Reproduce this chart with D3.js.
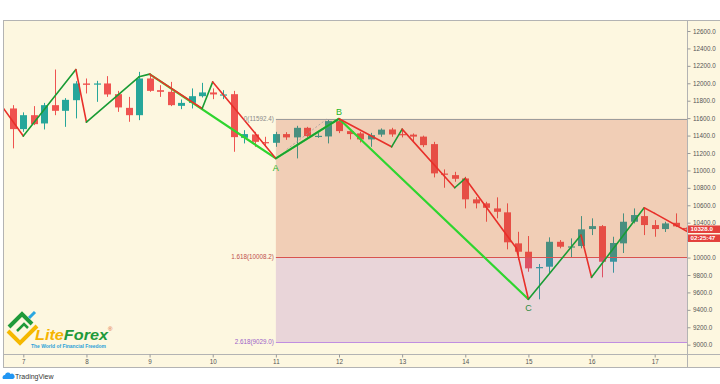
<!DOCTYPE html>
<html><head><meta charset="utf-8">
<script src="https://cdn.jsdelivr.net/npm/d3@7"></script>
<style>
html,body{margin:0;padding:0;background:#fff;}
svg{display:block;font-family:"Liberation Sans",Arial,sans-serif;}
</style></head><body>
<svg id="c" width="720" height="384"></svg>
<script>
// ---------- data ----------
const candleStart = 6 + 5/6;   // day value of first 4h candle
const candleStep = 1/6;        // 4 hours
const opens  = [11711,11474,11634,11539,11749,11684,11806,11998,11986,11998,11875,11718,11634,12055,11921,11902,11741,11775,11852,11895,11868,11875,11374,11413,11325,11317,11417,11379,11489,11391,11390,11566,11451,11425,11356,11411,11470,11417,11411,11388,11302,10964,10946,10908,10668,10622,10564,10519,10163,10067,9883,9895,10181,10121,10132,10327,10361,9952,10163,10411,10476,10373,10327,10399,10340];
const highs  = [11749,11666,11738,11775,12158,11830,12024,12055,12028,12082,11913,11844,12131,12113,11978,12016,11814,11941,12005,11941,11921,11913,11462,11443,11386,11443,11439,11512,11500,11428,11585,11592,11474,11443,11431,11482,11489,11477,11424,11399,11328,11012,10984,10927,10694,10640,10691,10622,10296,10247,9926,10232,10201,10220,10476,10450,10373,10239,10507,10564,10564,10430,10411,10507,10345];
const lows   = [11253,11443,11520,11470,11634,11500,11597,11883,11787,11844,11672,11558,11577,11902,11844,11738,11703,11711,11837,11818,11818,11214,11310,11271,11271,11271,11351,11138,11379,11374,11310,11428,11356,11321,11271,11386,11386,11379,11336,11267,10920,10801,10870,10564,10564,10411,10450,10094,9972,9837,9521,9819,10106,10006,10106,10258,9773,9826,10052,10392,10258,10239,10293,10350,10320];
const closes = [11474,11634,11531,11749,11684,11810,11998,11982,11998,11872,11723,11634,12055,11913,11902,11749,11775,11852,11895,11872,11872,11382,11417,11328,11317,11417,11379,11489,11394,11397,11566,11451,11417,11356,11405,11468,11413,11409,11388,11290,10966,10954,10904,10668,10622,10571,10525,10175,10067,9876,9891,10181,10124,10128,10324,10361,9952,10167,10411,10488,10373,10327,10392,10358,10328];

const dayTicks   = [7,8,9,10,11,12,13,14,15,16,17];
const dayLabels  = ["7","8","9","10","11","12","13","14","15","16","17"];
const priceTicks = [9000,9200,9400,9600,9800,10000,10200,10400,10600,10800,11000,11200,11400,11600,11800,12000,12200,12400,12600];
const hiddenPriceLabels = [10200]; // covered by the last-price badges

// ZigZag indicator vertices
const zzDays   = [6.678,7.0,7.833,8.0,8.833,9.0,9.833,10.0,11.0,12.0,12.833,13.0,13.833,14.0,14.81,15.0,15.833,16.0,16.833,17.0,17.53];
const zzPrices = [11720,11394,12158,11554,12074,12105,11711,12016,11138,11592.4,11271,11474,10801,10908,10106,9521,10258,9773,10571,10507,10293];

// ABC drawing
const abcDays   = [9.0,11.0,12.0,15.0];
const abcPrices = [12105,11138,11592.4,9521];
const abcLabels = ["","A","B","C"];

// dashed trend line
const trendDays   = [11.172,11.805];
const trendPrices = [11241,11589];

// Fibonacci levels
const fibStartDay = 11;
const fibRatios = ["0","1.618","2.618"];
const fibPrices = [11592.4,10008.2,9029.0];

const lastPrice = "10328.0";
const lastPriceValue = 10328;
const countdown = "02:25:47";

// ---------- layout ----------
const L=3, R=687.5, T=20, B=354, B2=367.5;
const svg = d3.select("#c");
const x = d3.scaleLinear().domain([7,17]).range([23.3,654.7]);
const y = d3.scaleLinear().domain([9000,12600]).range([344.7,31]);

const bg = "#fdf7e0";
svg.append("rect").attr("x",L).attr("y",T).attr("width",720-L).attr("height",B2-T).attr("fill",bg);

const defs = svg.append("defs");
defs.append("clipPath").attr("id","plot").append("rect")
  .attr("x",L).attr("y",T).attr("width",R-L).attr("height",B-T);

const plot = svg.append("g").attr("clip-path","url(#plot)");

// candles
const candles = opens.map((o,i)=>({t:candleStart+i*candleStep,o,h:highs[i],l:lows[i],c:closes[i]}));
const up="#26a69a", dn="#ef5350";
const cg = plot.append("g");
candles.forEach(d=>{
  const cx = Math.round(x(d.t));
  const col = d.c>=d.o ? up : dn;
  cg.append("line").attr("x1",cx+0.5).attr("x2",cx+0.5)
    .attr("y1",y(d.h)).attr("y2",y(d.l)).attr("stroke",col).attr("stroke-width",1);
  const top = y(Math.max(d.o,d.c)), bot = y(Math.min(d.o,d.c));
  cg.append("rect").attr("x",cx-3).attr("width",7)
    .attr("y",top).attr("height",Math.max(1.2,bot-top)).attr("fill",col);
});

// fib zones (drawn over candles, semi-transparent)
const fx = x(fibStartDay);
const zoneFills = ["rgba(200,62,30,0.22)","rgba(150,70,185,0.19)"];
for(let i=0;i<fibPrices.length-1;i++){
  plot.append("rect").attr("x",fx).attr("width",R-fx)
    .attr("y",y(fibPrices[i])).attr("height",y(fibPrices[i+1])-y(fibPrices[i]))
    .attr("fill",zoneFills[i]);
}
const fibLineCols = ["#9c9c9c","#d9534f","#c08ee0"];
const fibTextCols = ["#8a8a8a","#c0504d","#9b5fc8"];
fibPrices.forEach((p,i)=>{
  plot.append("line").attr("x1",fx).attr("x2",R)
    .attr("y1",Math.round(y(p))+0.5).attr("y2",Math.round(y(p))+0.5)
    .attr("stroke",fibLineCols[i]).attr("stroke-width",1);
  svg.append("text").attr("x",fx-2).attr("y",y(p)).attr("dy","0.35em")
    .attr("text-anchor","end").attr("font-size",6.3).attr("fill",fibTextCols[i])
    .text(fibRatios[i]+"("+p.toFixed(1)+")");
});

// dashed trend
plot.append("line").attr("x1",x(trendDays[0])).attr("y1",y(trendPrices[0]))
  .attr("x2",x(trendDays[1])).attr("y2",y(trendPrices[1]))
  .attr("stroke","#a0a0a0").attr("stroke-width",1).attr("stroke-dasharray","2,2").attr("opacity",0.8);

// ABC line
const line = d3.line().x(d=>x(d[0])).y(d=>y(d[1]));
plot.append("path").attr("d",line(abcDays.map((d,i)=>[d,abcPrices[i]])))
  .attr("fill","none").attr("stroke","#2fd52f").attr("stroke-width",2.2).attr("stroke-linejoin","round");

// zigzag
for(let i=0;i<zzDays.length-1;i++){
  const isUp = zzPrices[i+1]>zzPrices[i];
  plot.append("line").attr("x1",x(zzDays[i])).attr("y1",y(zzPrices[i]))
    .attr("x2",x(zzDays[i+1])).attr("y2",y(zzPrices[i+1]))
    .attr("stroke",isUp?"#1a9c35":"#e8302a").attr("stroke-width",1.6).attr("stroke-linecap","round");
}

// ABC labels
const labOff = [0,9,-7,9];
const labCols = ["","#27b527","#27b527","#2e8b3e"];
abcLabels.forEach((t,i)=>{
  if(!t) return;
  svg.append("text").attr("x",x(abcDays[i])).attr("y",y(abcPrices[i])+labOff[i]).attr("dy","0.35em")
    .attr("text-anchor","middle").attr("font-size",9).attr("fill",labCols[i]).text(t);
});

// frame lines
const fc = "#b3b3b3";
svg.append("line").attr("x1",L).attr("x2",720).attr("y1",T+0.5).attr("y2",T+0.5).attr("stroke",fc);
svg.append("line").attr("x1",L+0.5).attr("x2",L+0.5).attr("y1",T).attr("y2",B2).attr("stroke",fc);
svg.append("line").attr("x1",L).attr("x2",720).attr("y1",B+0.5).attr("y2",B+0.5).attr("stroke",fc);
svg.append("line").attr("x1",L).attr("x2",720).attr("y1",B2).attr("y2",B2).attr("stroke",fc);
svg.append("line").attr("x1",R).attr("x2",R).attr("y1",T).attr("y2",B2).attr("stroke",fc);

// axes
const xa = svg.append("g").attr("transform",`translate(0,${B+0.5})`)
  .call(d3.axisBottom(x).tickValues(dayTicks).tickFormat((d,i)=>dayLabels[i]).tickSize(3).tickPadding(2));
xa.select(".domain").remove();
xa.selectAll("line").attr("stroke","#999");
xa.selectAll("text").attr("font-size",6.3).attr("fill","#555").attr("font-family","Liberation Sans, Arial, sans-serif");

const ya = svg.append("g").attr("transform",`translate(${R},0)`)
  .call(d3.axisRight(y).tickValues(priceTicks)
    .tickFormat(d=>hiddenPriceLabels.includes(d)?"":d.toFixed(1)).tickSize(3).tickPadding(2.5));
ya.select(".domain").remove();
ya.selectAll("line").attr("stroke","#999");
ya.selectAll("text").attr("font-size",6.3).attr("fill","#555").attr("font-family","Liberation Sans, Arial, sans-serif");

// last price labels
const lpY = y(lastPriceValue);
svg.append("rect").attr("x",R+0.5).attr("y",lpY-3.5).attr("width",720-R).attr("height",7.5).attr("fill","#e3403c");
svg.append("text").attr("x",R+3).attr("y",lpY+0.3).attr("dy","0.35em").attr("font-size",6.2)
  .attr("font-weight","bold").attr("fill","#fff").text(lastPrice);
svg.append("rect").attr("x",R+0.5).attr("y",lpY+5.5).attr("width",720-R).attr("height",7.5).attr("fill","#e3403c");
svg.append("text").attr("x",R+3).attr("y",lpY+9.3).attr("dy","0.35em").attr("font-size",6.2)
  .attr("font-weight","bold").attr("fill","#fff").text(countdown);

// LiteForex logo
const lg = svg.append("g");
lg.append("path").attr("d","M8,331 L20,343 L37,326").attr("fill","none").attr("stroke","#f5b800").attr("stroke-width",4).attr("stroke-linejoin","miter");
lg.append("path").attr("d","M9,327 L22,314 L32,324").attr("fill","none").attr("stroke","#1f9a3a").attr("stroke-width",4);
lg.append("path").attr("d","M17,331 L24,324 L28,328").attr("fill","none").attr("stroke","#1f9a3a").attr("stroke-width",2.5);
lg.append("path").attr("d","M29,318 L35,312").attr("fill","none").attr("stroke","#2aa6e0").attr("stroke-width",3);
const lt = lg.append("text").attr("x",35).attr("y",339.5).attr("font-size",15).attr("font-weight","bold")
  .attr("font-style","italic").attr("textLength",73).attr("lengthAdjust","spacingAndGlyphs");
lt.append("tspan").attr("fill","#f5b400").text("Lite");
lt.append("tspan").attr("fill","#1f9a3a").text("Forex");
lg.append("text").attr("x",108).attr("y",331).attr("font-size",6).attr("fill","#e05a2b").text("®");
lg.append("text").attr("x",31).attr("y",348).attr("font-size",4.8).attr("font-weight","bold")
  .attr("fill","#2a9fd8").attr("textLength",75).attr("lengthAdjust","spacingAndGlyphs").text("The World of Financial Freedom");

// TradingView footer
svg.append("path").attr("d","M3,379 a2.5,2.5 0 0 1 2,-4 a3,3 0 0 1 5.5,-1 a2.5,2.5 0 0 1 2.5,5 z").attr("fill","#2196f3");
svg.append("text").attr("x",15).attr("y",378.5).attr("font-size",7).attr("fill","#333").text("TradingView");
</script>
</body></html>
